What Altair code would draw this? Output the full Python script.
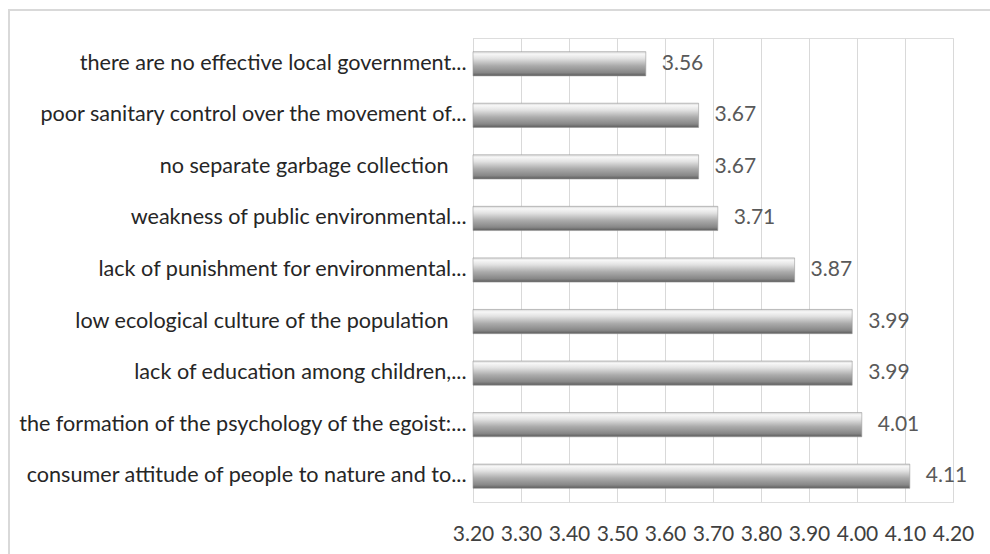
import altair as alt
import pandas as pd

# Survey: average rating of each environmental problem
problems = [
    "there are no effective local government...",
    "poor sanitary control over the movement of...",
    "no separate garbage collection\u2007\u00a0\u2060",
    "weakness of public environmental...",
    "lack of punishment for environmental...",
    "low ecological culture of the population\u2007\u00a0\u2060",
    "lack of education among children,...",
    "the formation of the psychology of the egoist:...",
    "consumer attitude of people to nature and to...",
]
scores = [3.56, 3.67, 3.67, 3.71, 3.87, 3.99, 3.99, 4.01, 4.11]
axis_ticks = [3.20, 3.30, 3.40, 3.50, 3.60, 3.70, 3.80, 3.90, 4.00, 4.10, 4.20]

df = pd.DataFrame({"problem": problems, "score": scores})

FONT = "Lato"
SIZE = 21

x_scale = alt.Scale(domain=[3.2, 4.2], zero=False, nice=False)

x_enc = alt.X(
    "score:Q",
    scale=x_scale,
    axis=alt.Axis(
        values=axis_ticks,
        format=".2f",
        title=None,
        domain=False,
        ticks=False,
        grid=True,
        gridColor="#d9d9d9",
        gridWidth=1,
        labelFont=FONT,
        labelFontSize=SIZE,
        labelColor="#404040",
        labelPadding=21,
        labelOverlap=False,
        labelBound=False,
        labelFlush=False,
    ),
)
y_enc = alt.Y(
    "problem:N",
    sort=problems,
    scale=alt.Scale(paddingInner=0.53, paddingOuter=0.265),
    axis=alt.Axis(
        title=None,
        domain=True,
        domainColor="#d9d9d9",
        ticks=False,
        labelFont=FONT,
        labelFontSize=21.6,
        labelColor="#262626",
        labelPadding=7,
        labelLimit=0,
    ),
)

# Cylinder-like shading: light rim on top, highlight, then darkening downward
bar_fill = alt.Gradient(
    gradient="linear",
    x1=0, y1=0, x2=0, y2=1,
    stops=[
        alt.GradientStop(offset=0.0, color="#d6d6d6"),
        alt.GradientStop(offset=0.1, color="#f7f7f7"),
        alt.GradientStop(offset=0.28, color="#e2e2e2"),
        alt.GradientStop(offset=0.58, color="#ababab"),
        alt.GradientStop(offset=0.86, color="#878787"),
        alt.GradientStop(offset=1.0, color="#5c5c5c"),
    ],
)

bars = alt.Chart(df).mark_bar(
    color=bar_fill, stroke="#9a9a9a", strokeWidth=0.6
).encode(
    x=alt.X("score:Q", scale=x_scale),
    x2=alt.datum(3.2),
    y=y_enc,
)

labels = alt.Chart(df).mark_text(
    align="left", baseline="middle", dx=16, font=FONT, fontSize=SIZE, color="#595959"
).encode(
    x="score:Q",
    y=alt.Y("problem:N", sort=problems),
    text=alt.Text("score:Q", format=".2f"),
)

# Outer frame of the chart (top and left edges fall inside the page)
frame = alt.Chart(df).mark_rect(
    fill=None, stroke="#d9d9d9", strokeWidth=2, clip=False
).encode(
    x=alt.value(-464), x2=alt.value(700),
    y=alt.value(-28), y2=alt.value(700),
)

base = alt.Chart(df).mark_point(opacity=0).encode(x=x_enc, y=y_enc)

chart = alt.layer(frame, base, bars, labels).properties(
    width=480,
    height=464,
    autosize=alt.AutoSizeParams(type="none"),
    padding={"left": 473, "top": 38, "right": 37, "bottom": 52},
).configure_view(stroke=None).configure(background="white")

chart.save("out.html", embed_options={"renderer": "svg", "actions": False})
